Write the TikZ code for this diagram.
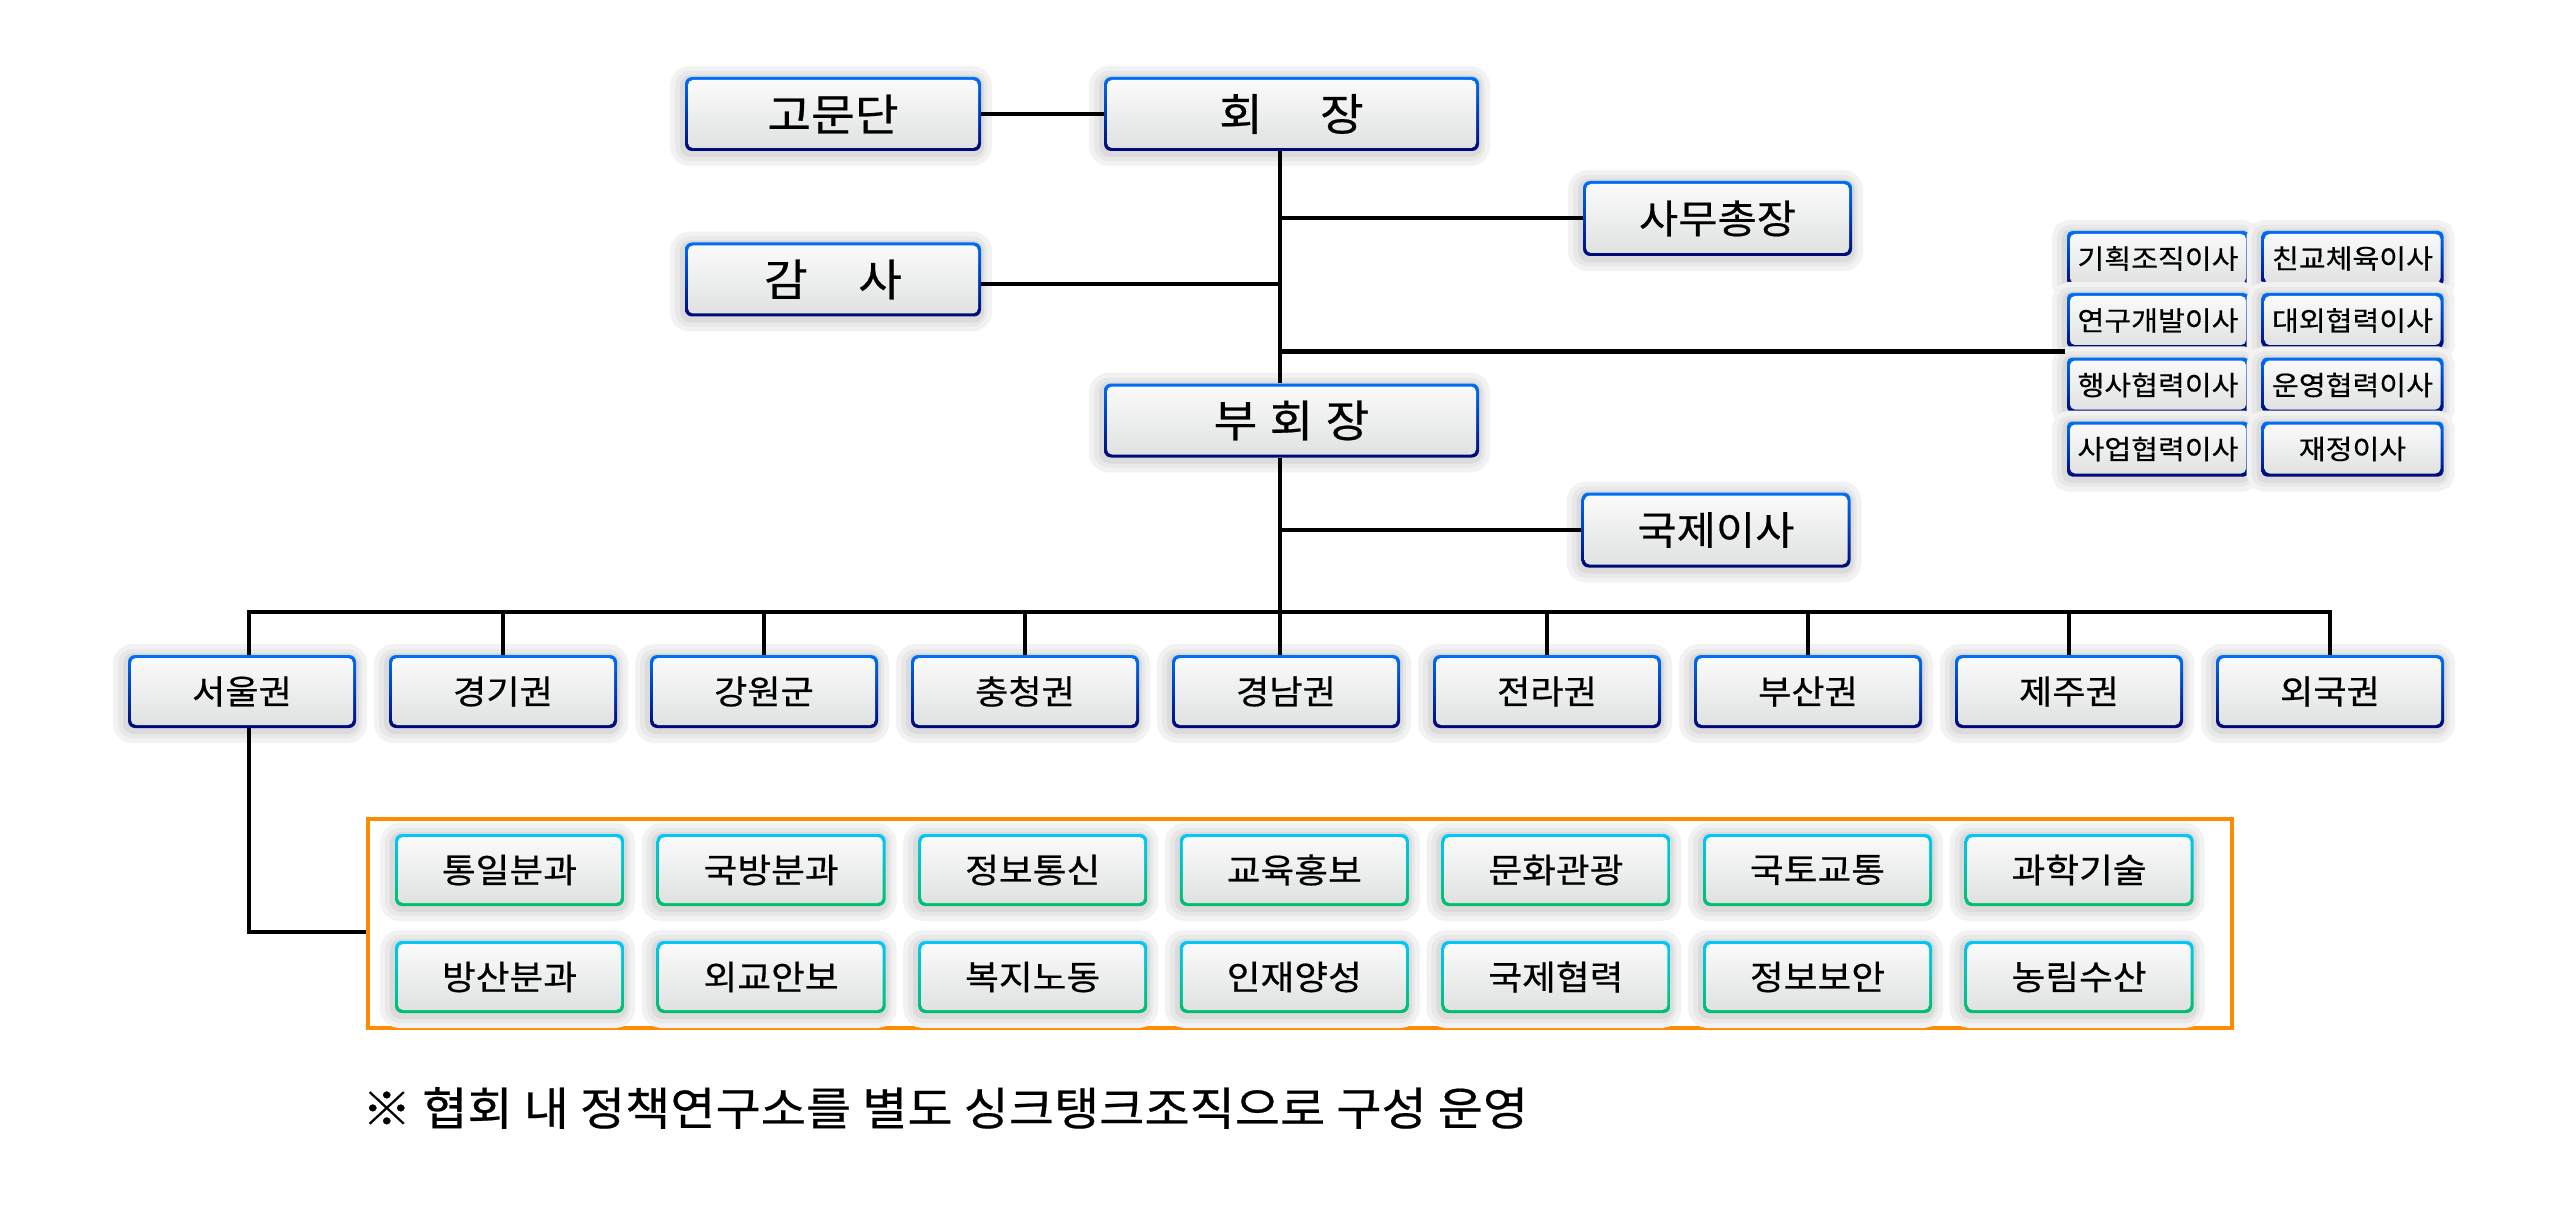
\documentclass[tikz,border=0pt]{standalone}
\usepackage{fontspec}
\setmainfont{Noto Sans CJK KR}[FakeStretch=1.08, FakeBold=0.5]
\usetikzlibrary{calc}
\definecolor{btop}{RGB}{0,112,245}
\definecolor{bbot}{RGB}{0,8,120}
\definecolor{ctop}{RGB}{0,200,250}
\definecolor{cbot}{RGB}{0,190,110}
\definecolor{ftop}{RGB}{250,250,250}
\definecolor{fbot}{RGB}{224,226,226}
\definecolor{orng}{RGB}{255,140,0}
\tikzset{
  halo/.style={
    preaction={draw=black!5, line width=26pt, transform canvas={shift={(-2pt,-2pt)}}},
    preaction={draw=black!9, line width=16pt, transform canvas={shift={(-2pt,-2pt)}}},
    preaction={draw=black!14, line width=8pt, transform canvas={shift={(-1pt,-2pt)}}}},
  framed/.style 2 args={rounded corners=7pt, inner sep=0pt, halo, text=black,
    path picture={
      \shade[top color=#1, bottom color=#2] (path picture bounding box.south west) rectangle (path picture bounding box.north east);
      \shade[top color=ftop, bottom color=fbot, rounded corners=5pt] ([shift={(3pt,-3pt)}]path picture bounding box.north west) rectangle ([shift={(-3pt,3pt)}]path picture bounding box.south east);
    }},
  bluebox/.style={framed={btop}{bbot}},
  greenbox/.style={framed={ctop}{cbot}},
  topbox/.style={bluebox, minimum width=296pt, minimum height=74pt, font=\fontsize{44}{50}\selectfont},
  widebox/.style={bluebox, minimum width=375pt, minimum height=74pt, font=\fontsize{44}{50}\selectfont},
  sidebox/.style={bluebox, minimum width=269pt, minimum height=75pt, font=\fontsize{39.5}{45}\selectfont},
  dirbox/.style={bluebox, rounded corners=5pt, minimum width=182pt, minimum height=55pt, font=\fontsize{27}{31}\selectfont},
  regbox/.style={bluebox, minimum width=228pt, minimum height=73pt, font=\fontsize{33.5}{38}\selectfont},
  subbox/.style={greenbox, minimum width=229pt, minimum height=72pt, font=\fontsize{34}{38}\selectfont},
  conn/.style={draw=black, line width=4pt},
}
\begin{document}
\begin{tikzpicture}[x=1pt,y=-1pt]
\useasboundingbox (0,0) rectangle (2560,1206);
\coordinate (tk) at (1280,0);
\coordinate (bus) at (0,612);
\coordinate (dirJ) at (2065,352);

\node[topbox] (gomun) at (833,114) {고문단};
\node[widebox] (hoejang) at (1291.5,114) {회\hspace{1.3em}장};
\node[sidebox] (samu) at (1717.5,218.5) {사무총장};
\node[topbox] (gamsa) at (833,279.5) {감\hspace{1.15em}사};
\node[widebox] (buhoe) at (1291.5,420.5) {부\hspace{0.28em}회\hspace{0.28em}장};
\node[sidebox] (gukje) at (1716,530) {국제이사};

\foreach \r/\a/\b/\y in {1/기획조직이사/친교체육이사/258.5, 2/연구개발이사/대외협력이사/320.5, 3/행사협력이사/운영협력이사/385, 4/사업협력이사/재정이사/449} {
  \node[dirbox] (d\r a) at (2158,\y) {\a};
  \node[dirbox] (d\r b) at (2352.5,\y) {\b};
}

\foreach \i/\t in {0/서울권,1/경기권,2/강원군,3/충청권,4/경남권,5/전라권,6/부산권,7/제주권,8/외국권} {
  \node[regbox] (r\i) at ({242+\i*261},691.5) {\t};
}

\node[draw=orng, line width=4pt, minimum width=1864pt, minimum height=209pt, inner sep=0pt] (grp) at (1300,923.5) {};
\foreach \i/\a/\b in {0/통일분과/방산분과, 1/국방분과/외교안보, 2/정보통신/복지노동, 3/교육홍보/인재양성, 4/문화관광/국제협력, 5/국토교통/정보보안, 6/과학기술/농림수산} {
  \node[subbox] (s\i a) at ({509.5+\i*261.6},870) {\a};
  \node[subbox] (s\i b) at ({509.5+\i*261.6},977) {\b};
}

\node[anchor=west, inner sep=0pt, font=\fontsize{45.5}{50}\selectfont] (note) at (362,1108) {※ 협회 내 정책연구소를 별도 싱크탱크조직으로 구성 운영};

% connectors
\draw[conn] (gomun.east) -- (hoejang.west);
\draw[conn] (hoejang.south -| tk) -- (buhoe.north -| tk);
\draw[conn] (samu.west -| tk) -- (samu.west);
\draw[conn] ([yshift=-5pt]gamsa.east) -- ([yshift=-5pt]gamsa.east -| tk);
\draw[conn, line width=5pt] (dirJ -| tk) -- (dirJ);
\draw[conn] (buhoe.south -| tk) -- (r4.north -| tk);
\draw[conn] (gukje.west -| tk) -- (gukje.west);
\draw[conn] ([xshift=7pt]r0.north) -- ([xshift=7pt]r0.north |- bus) -- (r8.north |- bus) -- (r8.north);
\foreach \i in {1,2,3,5,6,7} {
  \draw[conn] (r\i.north) -- (r\i.north |- bus);
}
\coordinate (gj) at (368,932);
\draw[conn] ([xshift=7pt]r0.south) |- (grp.west |- gj);
\end{tikzpicture}
\end{document}
